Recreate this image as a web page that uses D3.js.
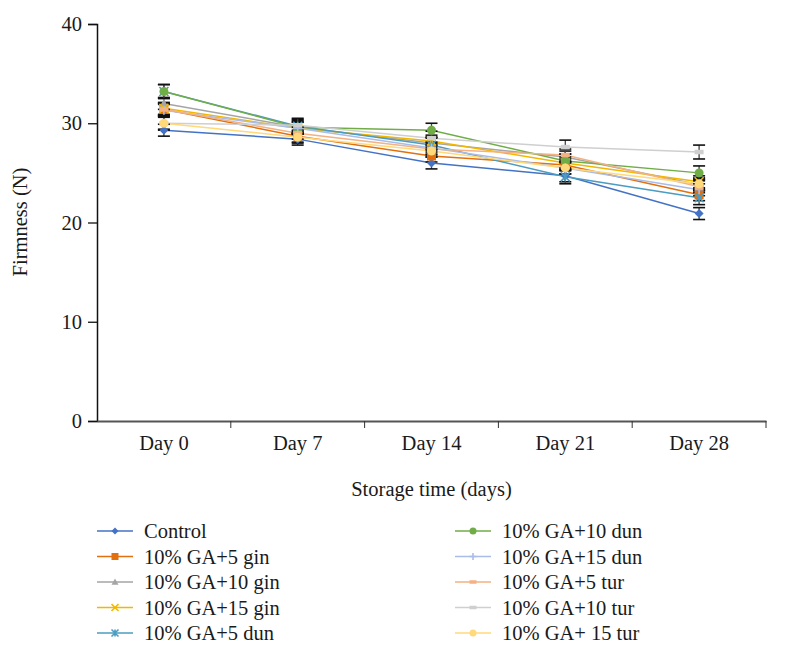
<!DOCTYPE html>
<html><head><meta charset="utf-8">
<script src="https://cdn.jsdelivr.net/npm/d3@7"></script>
<style>body{margin:0;background:#fff}text{font-family:"Liberation Serif","DejaVu Serif",serif;fill:#1a1a1a}</style>
</head><body><svg id="c" width="806" height="646"></svg>
<script>
const categories = ["Day 0","Day 7","Day 14","Day 21","Day 28"];
const seriesNames = ["Control","10% GA+5 gin","10% GA+10 gin","10% GA+15 gin","10% GA+5 dun","10% GA+10 dun","10% GA+15 dun","10% GA+5 tur","10% GA+10 tur","10% GA+ 15 tur"];
const control = [29.3, 28.4, 26.0, 24.7, 20.9];
const gin5    = [31.4, 28.7, 26.7, 25.8, 22.8];
const gin10   = [32.0, 29.6, 28.0, 26.6, 23.8];
const gin15   = [31.5, 29.5, 28.2, 26.0, 24.1];
const dun5    = [33.2, 29.7, 27.8, 24.6, 22.5];
const dun10   = [33.2, 29.6, 29.3, 26.2, 25.0];
const dun15   = [31.3, 29.5, 27.5, 25.5, 23.3];
const tur5    = [31.4, 29.0, 27.4, 26.8, 23.6];
const tur10   = [30.0, 29.8, 28.5, 27.6, 27.1];
const tur15   = [30.0, 28.6, 27.2, 25.5, 23.9];
const errors  = [0.6, 0.6, 0.6, 0.6, 0.7, 0.7, 0.6, 0.6, 0.7, 0.6];
const yTicks = [0,10,20,30,40];

const colors = ["#4472C4","#E2700F","#A5A5A5","#F2B800","#4A9CC0","#70AD47","#A9BDE8","#F4B183","#CFCFCF","#FFD97A"];
const shapes = ["diamond","square","triangle","x","star","circle","plus","dash","dash","circleL"];
const values = [control,gin5,gin10,gin15,dun5,dun10,dun15,tur5,tur10,tur15];

const svg = d3.select("#c");
const L=97, R=766, T=24, B=421;
const FS = "20.5px";
const x = d3.scaleBand().domain(categories).range([L,R]);
const y = d3.scaleLinear().domain([0,40]).range([B,T]);

const gy = svg.append("g").attr("transform",`translate(${L},0)`)
  .call(d3.axisLeft(y).tickValues(yTicks).tickSize(9).tickPadding(6));
gy.select(".domain").attr("stroke","#111").attr("stroke-width",1.5);
gy.selectAll(".tick line").attr("stroke","#111").attr("stroke-width",1.3);
gy.selectAll("text").style("font-size",FS).style("font-family","Liberation Serif").attr("fill","#1a1a1a");

const gx = svg.append("g").attr("transform",`translate(0,${B})`)
  .call(d3.axisBottom(x).tickSize(0).tickPadding(14));
gx.select(".domain").attr("stroke","#555").attr("stroke-width",2);
gx.selectAll("text").style("font-size",FS).style("font-family","Liberation Serif").attr("fill","#1a1a1a");
svg.append("g").selectAll("line").data(categories).join("line")
  .attr("x1",d=>x(d)+x.bandwidth()).attr("x2",d=>x(d)+x.bandwidth())
  .attr("y1",B).attr("y2",B+7).attr("stroke","#333").attr("stroke-width",1);

svg.append("text").attr("transform",`translate(27,222) rotate(-90)`).attr("text-anchor","middle")
  .style("font-size",FS).text("Firmness (N)");
svg.append("text").attr("x",(L+R)/2).attr("y",496).attr("text-anchor","middle")
  .style("font-size",FS).text("Storage time (days)");

function marker(g, shape, cx, cy, col, s){
  const r = s||4.5;
  switch(shape){
    case "diamond": g.append("path").attr("d",`M${cx},${cy-r}L${cx+r},${cy}L${cx},${cy+r}L${cx-r},${cy}Z`).attr("fill",col); break;
    case "square": g.append("rect").attr("x",cx-r).attr("y",cy-r).attr("width",2*r).attr("height",2*r).attr("fill",col); break;
    case "triangle": g.append("path").attr("d",`M${cx},${cy-r}L${cx+r},${cy+r*0.8}L${cx-r},${cy+r*0.8}Z`).attr("fill",col); break;
    case "x": g.append("path").attr("d",`M${cx-r},${cy-r}L${cx+r},${cy+r}M${cx-r},${cy+r}L${cx+r},${cy-r}`).attr("stroke",col).attr("stroke-width",1.6); break;
    case "star": g.append("path").attr("d",`M${cx-r},${cy-r}L${cx+r},${cy+r}M${cx-r},${cy+r}L${cx+r},${cy-r}M${cx},${cy-r}L${cx},${cy+r}`).attr("stroke",col).attr("stroke-width",1.6); break;
    case "circle": g.append("circle").attr("cx",cx).attr("cy",cy).attr("r",r).attr("fill",col); break;
    case "plus": g.append("path").attr("d",`M${cx-r},${cy}L${cx+r},${cy}M${cx},${cy-r}L${cx},${cy+r}`).attr("stroke",col).attr("stroke-width",1.6); break;
    case "dash": g.append("rect").attr("x",cx-r).attr("y",cy-r*0.5).attr("width",2*r).attr("height",r).attr("fill",col); break;
    case "circleL": g.append("circle").attr("cx",cx).attr("cy",cy).attr("r",r).attr("fill",col); break;
  }
}

const line = d3.line().x((d,i)=>x(categories[i])+x.bandwidth()/2).y(d=>y(d));
values.forEach((vals,si)=>{
  svg.append("path").datum(vals).attr("d",line).attr("fill","none").attr("stroke",colors[si]).attr("stroke-width",1.5);
});
values.forEach((vals,si)=>{
  const g = svg.append("g");
  vals.forEach((v,i)=>{
    const cx = x(categories[i])+x.bandwidth()/2;
    const e = errors[si];
    g.append("line").attr("x1",cx).attr("x2",cx).attr("y1",y(v+e)).attr("y2",y(v-e)).attr("stroke","#444").attr("stroke-width",1.3);
    [v+e,v-e].forEach(w=>g.append("line").attr("x1",cx-6).attr("x2",cx+6).attr("y1",y(w)).attr("y2",y(w)).attr("stroke","#111").attr("stroke-width",1.6));
  });
});
values.forEach((vals,si)=>{
  const g = svg.append("g");
  vals.forEach((v,i)=>{
    const cx = x(categories[i])+x.bandwidth()/2;
    marker(g, shapes[si], cx, y(v), colors[si], 4.5);
  });
});

const lg = svg.append("g");
seriesNames.forEach((n,i)=>{
  const col = i<5?0:1;
  const row = i%5;
  const lx = col===0?97:455, ly = 531 + row*25.5;
  lg.append("line").attr("x1",lx).attr("x2",lx+36).attr("y1",ly).attr("y2",ly).attr("stroke",colors[i]).attr("stroke-width",1.5);
  marker(lg, shapes[i], lx+18, ly, colors[i], 3.5);
  lg.append("text").attr("x",lx+47).attr("y",ly).attr("dy","0.35em").style("font-size",FS).text(n);
});
</script></body></html>
